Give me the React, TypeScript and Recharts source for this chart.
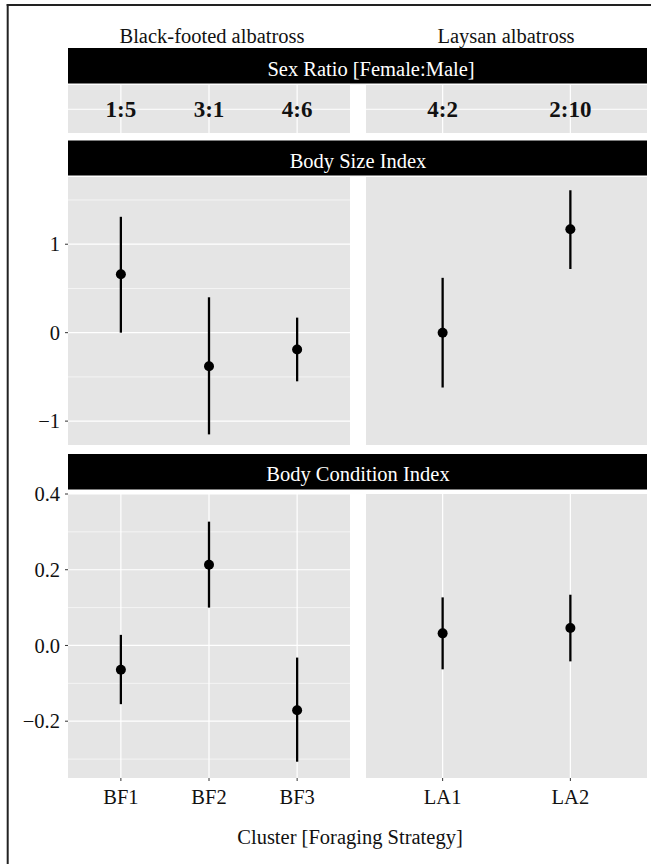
import { ScatterChart, Scatter, XAxis, YAxis, CartesianGrid, ErrorBar } from 'recharts';

const FONT = '"Liberation Serif", "DejaVu Serif", "Times New Roman", serif';
const PANEL_BG = '#e5e5e5';
const INK = '#111';

// species / facet columns
const speciesNames = ['Black-footed albatross', 'Laysan albatross'];
const bfClusters = ['BF1', 'BF2', 'BF3'];
const laClusters = ['LA1', 'LA2'];

// row strips
const stripTitles = ['Sex Ratio [Female:Male]', 'Body Size Index', 'Body Condition Index'];

// sex ratio (female:male)
const bfSexRatio = ['1:5', '3:1', '4:6'];
const laSexRatio = ['4:2', '2:10'];

// body size index: mean and interval
const bfSizeMean = [0.66, -0.38, -0.19];
const bfSizeLow = [0.0, -1.15, -0.55];
const bfSizeHigh = [1.31, 0.4, 0.17];
const laSizeMean = [0.0, 1.17];
const laSizeLow = [-0.62, 0.72];
const laSizeHigh = [0.62, 1.61];

// body condition index: mean and interval
const bfCondMean = [-0.064, 0.213, -0.171];
const bfCondLow = [-0.155, 0.1, -0.307];
const bfCondHigh = [0.028, 0.327, -0.032];
const laCondMean = [0.032, 0.046];
const laCondLow = [-0.063, -0.042];
const laCondHigh = [0.127, 0.134];

// y scales
const sizeDomain = [-1.27, 1.76];
const sizeTicks = [-1, 0, 1];
const sizeMinor = [-0.5, 0.5, 1.5];
const condDomain = [-0.35, 0.4];
const condTicks = [-0.2, 0, 0.2, 0.4];
const condMinor = [-0.3, -0.1, 0.1, 0.3];

const xTitle = 'Cluster [Foraging Strategy]';

const fmt = (digits: number) => (v: number) => v.toFixed(digits).replace('-', '\u2212');

const dot = (p: any) => <circle cx={p.cx} cy={p.cy} r={5} fill="#000" />;

const ratioText = (p: any) => (
  <text
    x={p.cx}
    y={p.cy}
    textAnchor="middle"
    dominantBaseline="central"
    fontSize={23}
    fontWeight="bold"
    fontFamily={FONT}
    fill={INK}
  >
    {p.payload?.label}
  </text>
);

// column geometry (plot areas)
const cols = [
  { left: 0, axisW: 68, plotW: 282, names: bfClusters },
  { left: 360, axisW: 6, plotW: 281, names: laClusters },
];

const PAD_TOP = 12;

function RatioPanel({ col, labels, top }: { col: number; labels: string[]; top: number }) {
  const c = cols[col];
  const n = c.names.length;
  const data = labels.map((label, i) => ({ x: i + 1, y: 1, label }));
  return (
    <div style={{ position: 'absolute', left: c.left + c.axisW, top }}>
      <ScatterChart width={c.plotW} height={48.5} margin={{ top: 0, right: 0, bottom: 0, left: 0 }}>
        <CartesianGrid
          fill={PANEL_BG}
          fillOpacity={1}
          stroke="#fff"
          strokeWidth={1.2}
          horizontalValues={[1]}
          verticalValues={c.names.map((_, i) => i + 1)}
        />
        <XAxis type="number" dataKey="x" hide domain={[0.4, n + 0.6]} allowDataOverflow />
        <YAxis type="number" dataKey="y" hide domain={[0, 2]} allowDataOverflow />
        <Scatter data={data} shape={ratioText} isAnimationActive={false} />
      </ScatterChart>
    </div>
  );
}

function ValuePanel(props: {
  col: number;
  top: number;
  plotH: number;
  xAxisH: number;
  showXLabels: boolean;
  mean: number[];
  low: number[];
  high: number[];
  domain: number[];
  ticks: number[];
  minor: number[];
  digits: number;
}) {
  const c = cols[props.col];
  const n = c.names.length;
  const data = props.mean.map((m, i) => ({
    x: i + 1,
    y: m,
    err: [m - props.low[i], props.high[i] - m],
  }));
  const showY = props.col === 0;
  return (
    <div style={{ position: 'absolute', left: c.left, top: props.top - PAD_TOP }}>
      <ScatterChart
        width={c.axisW + c.plotW}
        height={PAD_TOP + props.plotH + props.xAxisH}
        margin={{ top: PAD_TOP, right: 0, bottom: 0, left: 0 }}
      >
        <CartesianGrid
          fill={PANEL_BG}
          fillOpacity={1}
          stroke="#fff"
          strokeWidth={0.6}
          vertical={false}
          horizontalValues={props.minor}
        />
        <CartesianGrid
          stroke="#fff"
          strokeWidth={1.2}
          horizontalValues={props.ticks}
          verticalValues={c.names.map((_, i) => i + 1)}
        />
        <XAxis
          type="number"
          dataKey="x"
          domain={[0.4, n + 0.6]}
          allowDataOverflow
          ticks={c.names.map((_, i) => i + 1)}
          interval={0}
          height={props.xAxisH}
          axisLine={false}
          tickSize={3}
          tickMargin={8}
          tickLine={{ stroke: '#333', strokeWidth: 1 }}
          tick={props.showXLabels ? { fill: INK, fontSize: 20.5, fontFamily: FONT } : false}
          tickFormatter={(v: number) => c.names[v - 1]}
        />
        <YAxis
          type="number"
          dataKey="y"
          domain={props.domain}
          allowDataOverflow
          ticks={props.ticks}
          interval={0}
          width={c.axisW}
          axisLine={false}
          tickSize={3}
          tickMargin={5}
          tickLine={{ stroke: '#333', strokeWidth: 1 }}
          tick={showY ? { fill: INK, fontSize: 20.5, fontFamily: FONT } : false}
          tickFormatter={fmt(props.digits)}
        />
        <Scatter data={data} shape={dot} isAnimationActive={false}>
          <ErrorBar dataKey="err" direction="y" width={0} stroke="#000" strokeWidth={2.3} isAnimationActive={false} />
        </Scatter>
      </ScatterChart>
    </div>
  );
}

const strips = [
  { y: 48, h: 35.5, base: 75.5, cx: 371 },
  { y: 140.5, h: 35, base: 168, cx: 358 },
  { y: 454, h: 35.5, base: 481, cx: 358 },
];

export default function App() {
  return (
    <div style={{ position: 'relative', width: 651, height: 864, background: '#fff', fontFamily: FONT }}>
      <style>{'body{margin:0}'}</style>
      <svg width={651} height={864} style={{ position: 'absolute', left: 0, top: 0 }}>
        <line x1={7.7} y1={4} x2={7.7} y2={864} stroke="#222" strokeWidth={2} />
        <line x1={6.7} y1={5} x2={651} y2={5} stroke="#222" strokeWidth={2} />
        <text x={212} y={42.5} textAnchor="middle" fontSize={20.5} fill={INK}>
          {speciesNames[0]}
        </text>
        <text x={506} y={42.5} textAnchor="middle" fontSize={20.5} fill={INK}>
          {speciesNames[1]}
        </text>
        {strips.map((s, i) => (
          <g key={i}>
            <rect x={68} y={s.y} width={579} height={s.h} fill="#000" />
            <text x={s.cx} y={s.base} textAnchor="middle" fontSize={20.5} fill="#fff">
              {stripTitles[i]}
            </text>
          </g>
        ))}
        <text x={350} y={844} textAnchor="middle" fontSize={20.5} fill={INK}>
          {xTitle}
        </text>
      </svg>

      <RatioPanel col={0} labels={bfSexRatio} top={84.5} />
      <RatioPanel col={1} labels={laSexRatio} top={84.5} />

      <ValuePanel col={0} top={177} plotH={268} xAxisH={6} showXLabels={false}
        mean={bfSizeMean} low={bfSizeLow} high={bfSizeHigh}
        domain={sizeDomain} ticks={sizeTicks} minor={sizeMinor} digits={0} />
      <ValuePanel col={1} top={177} plotH={268} xAxisH={6} showXLabels={false}
        mean={laSizeMean} low={laSizeLow} high={laSizeHigh}
        domain={sizeDomain} ticks={sizeTicks} minor={sizeMinor} digits={0} />

      <ValuePanel col={0} top={494} plotH={284} xAxisH={40} showXLabels
        mean={bfCondMean} low={bfCondLow} high={bfCondHigh}
        domain={condDomain} ticks={condTicks} minor={condMinor} digits={1} />
      <ValuePanel col={1} top={494} plotH={284} xAxisH={40} showXLabels
        mean={laCondMean} low={laCondLow} high={laCondHigh}
        domain={condDomain} ticks={condTicks} minor={condMinor} digits={1} />
    </div>
  );
}
